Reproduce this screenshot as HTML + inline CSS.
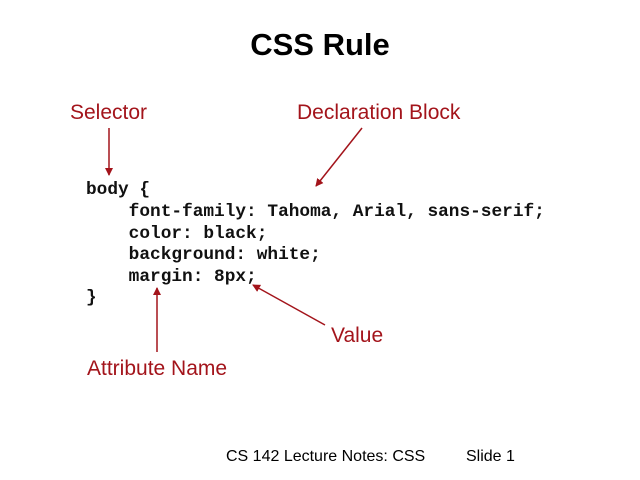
<!DOCTYPE html>
<html><head><style>
body{margin:0;width:640px;height:480px;background:#fff;position:relative;overflow:hidden;font-family:"Liberation Sans",sans-serif}
.t{position:absolute;white-space:pre}
.r{color:#a3141b;font-size:21px}
.c{font-family:"Liberation Mono",monospace;font-weight:bold;font-size:17.8px;color:#111;left:86px}
</style></head><body>
<div class="t" style="left:0;width:640px;text-align:center;top:27px;font-size:31px;font-weight:bold">CSS Rule</div>
<div class="t r" style="left:70px;top:101px">Selector</div>
<div class="t r" style="left:297px;top:101px">Declaration Block</div>
<div class="t r" style="left:331px;top:324px">Value</div>
<div class="t r" style="left:87px;top:357px">Attribute Name</div>
<div class="t c" style="top:180px">body {</div>
<div class="t c" style="top:202px">    font-family: Tahoma, Arial, sans-serif;</div>
<div class="t c" style="top:224px">    color: black;</div>
<div class="t c" style="top:245px">    background: white;</div>
<div class="t c" style="top:267px">    margin: 8px;</div>
<div class="t c" style="top:288px">}</div>
<div class="t" style="left:226px;top:448px;font-size:16px">CS 142 Lecture Notes: CSS</div>
<div class="t" style="left:466px;top:448px;font-size:16px">Slide 1</div>
<svg width="640" height="480" style="position:absolute;left:0;top:0">
<defs><marker id="a" markerWidth="8" markerHeight="8" refX="7" refY="4" orient="auto" markerUnits="userSpaceOnUse"><path d="M0,0L8,4L0,8z" fill="#a3141b"/></marker></defs>
<g stroke="#a3141b" stroke-width="1.5" fill="none" marker-end="url(#a)">
<line x1="109" y1="128" x2="109" y2="175"/>
<line x1="362" y1="128" x2="316" y2="186"/>
<line x1="325" y1="325" x2="253" y2="285"/>
<line x1="157" y1="352" x2="157" y2="288"/>
</g></svg>
</body></html>
